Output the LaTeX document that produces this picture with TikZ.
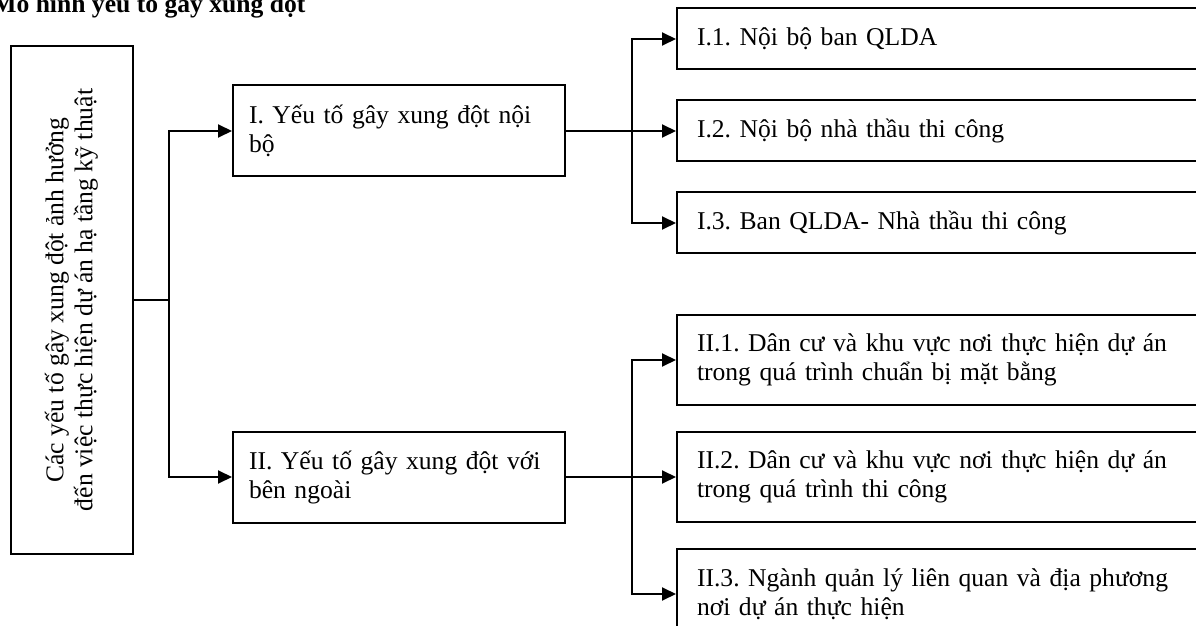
\documentclass[tikz,border=0pt]{standalone}
\usepackage{fontspec}
\setmainfont{Liberation Serif}
\usepackage{graphicx}
\usetikzlibrary{positioning,arrows.meta}

\tikzset{
  box/.style={draw, line width=1pt, inner xsep=10pt, inner ysep=0pt, align=left},
  rootbox/.style={draw, line width=1pt, minimum width=61pt, minimum height=254pt, inner sep=0pt},
  grpbox/.style={box, inner xsep=8pt, text width=150pt, minimum height=45.5pt},
  subbox/.style={box, text width=300pt, minimum height=30.5pt},
  subboxtall/.style={box, text width=300pt, minimum height=45pt},
  link/.style={line width=1pt},
  arr/.style={link, -{Triangle[length=7pt,width=6.5pt]}},
}

\begin{document}
\frenchspacing
\begin{tikzpicture}[x=0.5pt, y=-0.5pt, font=\fontsize{12.8}{14.5}\selectfont]
  \useasboundingbox (0,0) rectangle (1196,626);

  % Define nodes
  \node[font=\fontsize{12.8}{14.5}\selectfont\bfseries, anchor=base west, inner sep=0pt] (title) at (-8,13) {Mô hình yếu tố gây xung đột};
  \node[rootbox] (root) at (72,300) {\rotatebox{90}{\begin{tabular}{@{}c@{}}Các yếu tố gây xung đột ảnh hưởng\\đến việc thực hiện dự án hạ tầng kỹ thuật\end{tabular}}};
  \node[grpbox, anchor=west] (g1) at (232,131) {I. Yếu tố gây xung đột nội\\bộ};
  \node[grpbox, anchor=west] (g2) at (232,477) {II. Yếu tố gây xung đột với\\bên ngoài};
  \node[subbox, right=55pt of g1]     (s12) {I.2. Nội bộ nhà thầu thi công};
  \node[subbox, above=14.5pt of s12]  (s11) {I.1. Nội bộ ban QLDA};
  \node[subbox, below=14.5pt of s12]  (s13) {I.3. Ban QLDA- Nhà thầu thi công};
  \node[subboxtall, right=55pt of g2]    (s22) {II.2. Dân cư và khu vực nơi thực hiện dự án\\trong quá trình thi công};
  \node[subboxtall, above=12.5pt of s22] (s21) {II.1. Dân cư và khu vực nơi thực hiện dự án\\trong quá trình chuẩn bị mặt bằng};
  \node[subboxtall, below=12.5pt of s22] (s23) {II.3. Ngành quản lý liên quan và địa phương\\nơi dự án thực hiện};

  % Connect the nodes
  \draw[link] (root.east) -- ++(35,0) coordinate (rj);
  \draw[arr] (rj) |- (g1.west);
  \draw[arr] (rj) |- (g2.west);
  \draw[arr] (g1.east) -- (s12.west);
  \path (s12.west) ++(-44,0) coordinate (j1);
  \draw[arr] (j1) |- (s11.west);
  \draw[arr] (j1) |- (s13.west);
  \draw[arr] (g2.east) -- (s22.west);
  \path (s22.west) ++(-44,0) coordinate (j2);
  \draw[arr] (j2) |- (s21.west);
  \draw[arr] (j2) |- (s23.west);

\end{tikzpicture}
\end{document}
